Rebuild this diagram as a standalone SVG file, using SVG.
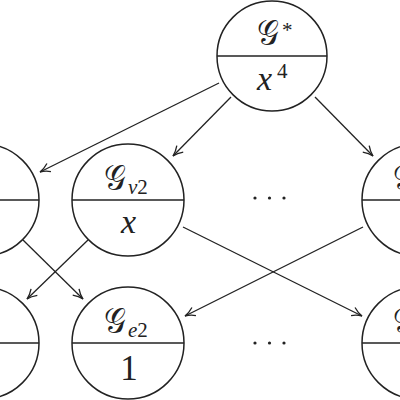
<svg xmlns="http://www.w3.org/2000/svg" width="400" height="400" viewBox="0 0 400 400">
<defs>
<marker id="ah" viewBox="0 0 12 12" refX="11" refY="6" markerWidth="12" markerHeight="12" markerUnits="userSpaceOnUse" orient="auto">
<path d="M1,1.5 Q6,5 11,6 Q6,7 1,10.5" fill="none" stroke="#222" stroke-width="1.3"/>
</marker>
<style>
.n{fill:#fff;stroke:#222;stroke-width:1.5}
.d{stroke:#222;stroke-width:1.5}
.c{stroke:#222;stroke-width:1.3;fill:none;marker-end:url(#ah)}
text{font-family:"Liberation Serif","DejaVu Serif",serif;fill:#222}
.g{font-size:36px}
.m{font-size:34px;font-style:italic}
.r{font-size:35px;text-anchor:middle}
.s{font-size:21px}
.si{font-size:21px;font-style:italic}
</style>
</defs>
<rect width="400" height="400" fill="#fff"/>
<g id="n0">
<circle class="n" cx="272" cy="56" r="55"/>
<line class="d" x1="217" y1="56" x2="327" y2="56"/>
<text x="257" y="45"><tspan class="g" textLength="22" lengthAdjust="spacingAndGlyphs">𝒢</tspan><tspan class="s" x="282" y="37">*</tspan></text>
<text x="257" y="90"><tspan class="m">x</tspan><tspan class="s" x="277" y="78">4</tspan></text>
</g>
<g id="nV2">
<circle class="n" cx="128" cy="200" r="56"/>
<line class="d" x1="72" y1="200" x2="184" y2="200"/>
<text x="104" y="190"><tspan class="g" textLength="22" lengthAdjust="spacingAndGlyphs">𝒢</tspan><tspan class="si" x="128" y="194">v</tspan><tspan class="s">2</tspan></text>
<text class="m" x="121" y="233">x</text>
</g>
<g id="nR1">
<circle class="n" cx="418" cy="200" r="56"/>
<line class="d" x1="362" y1="200" x2="474" y2="200"/>
<text class="g" x="393" y="190" textLength="22" lengthAdjust="spacingAndGlyphs">𝒢</text>
</g>
<g id="nL1">
<circle class="n" cx="-17" cy="200" r="56"/>
<line class="d" x1="-73" y1="200" x2="39" y2="200"/>
</g>
<g id="nL2">
<circle class="n" cx="-17" cy="343" r="56"/>
<line class="d" x1="-73" y1="343" x2="39" y2="343"/>
</g>
<g id="nE2">
<circle class="n" cx="128" cy="343" r="56"/>
<line class="d" x1="72" y1="343" x2="184" y2="343"/>
<text x="104" y="333"><tspan class="g" textLength="22" lengthAdjust="spacingAndGlyphs">𝒢</tspan><tspan class="si" x="128" y="337">e</tspan><tspan class="s">2</tspan></text>
<text x="129" y="380" class="r">1</text>
</g>
<g id="nR2">
<circle class="n" cx="418" cy="343" r="56"/>
<line class="d" x1="362" y1="343" x2="474" y2="343"/>
<text class="g" x="393" y="333" textLength="22" lengthAdjust="spacingAndGlyphs">𝒢</text>
</g>
<g id="dots" fill="#222">
<circle cx="255" cy="198" r="1.6"/><circle cx="269.5" cy="198" r="1.6"/><circle cx="284" cy="198" r="1.6"/>
<circle cx="255" cy="343" r="1.6"/><circle cx="269.5" cy="343" r="1.6"/><circle cx="284" cy="343" r="1.6"/>
</g>
<g id="connectors">
<line class="c" x1="219" y1="83" x2="40" y2="172"/>
<line class="c" x1="231" y1="97" x2="173" y2="156"/>
<line class="c" x1="315" y1="97" x2="373" y2="156"/>
<line class="c" x1="23" y1="240" x2="83" y2="299"/>
<line class="c" x1="88" y1="240" x2="27" y2="299"/>
<line class="c" x1="183" y1="227" x2="362" y2="316"/>
<line class="c" x1="363" y1="227" x2="185" y2="316"/>
</g>
</svg>
